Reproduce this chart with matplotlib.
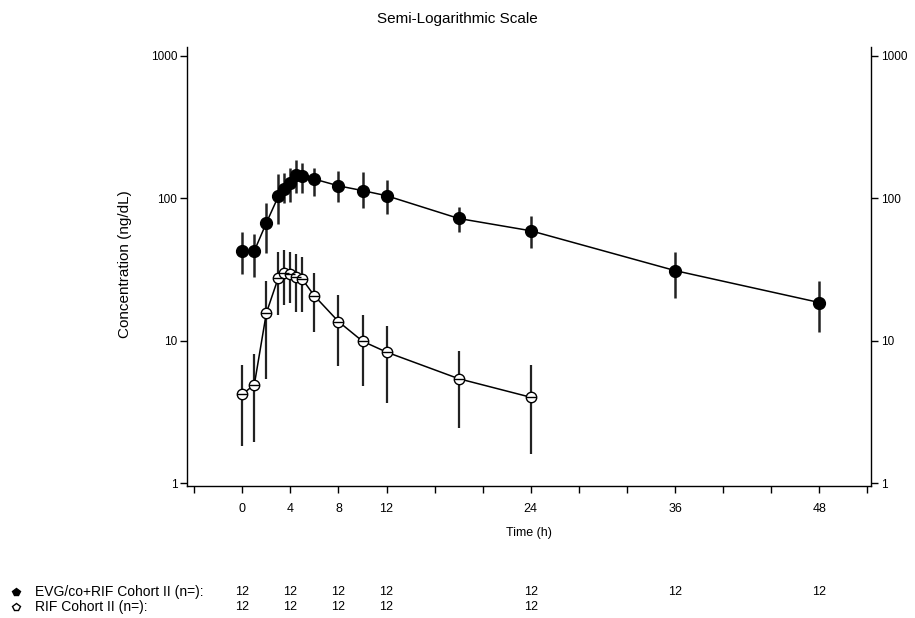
import matplotlib
matplotlib.use("Agg")
import matplotlib.pyplot as plt
from matplotlib.lines import Line2D
from matplotlib.transforms import blended_transform_factory
import numpy as np

plt.rcParams['font.family'] = ['Liberation Sans', 'DejaVu Sans']

# ---- data ----
evg_time = [0, 1, 2, 3, 3.5, 4, 4.5, 5, 6, 8, 10, 12, 18, 24, 36, 48]
evg_mean = [42.6, 42.6, 67, 103, 115, 127, 145, 142, 136, 122, 113, 104, 72, 59, 31, 18.5]
evg_low = [29.2, 28, 41, 66, 92, 94, 109, 108, 104, 94, 85, 78, 58, 45, 20, 11.4]
evg_high = [57.6, 56, 93, 148, 150, 162, 185, 177, 162, 156, 153, 133, 86, 75, 42, 26.2]

rif_time = [0, 1, 2, 3, 3.5, 4, 4.5, 5, 6, 8, 10, 12, 18, 24]
rif_mean = [4.2, 4.9, 15.6, 27.7, 29.7, 29.5, 28.1, 26.9, 20.6, 13.6, 9.9, 8.3, 5.4, 4.0]
rif_low = [1.82, 1.95, 5.35, 15.1, 17.8, 18.3, 16, 16, 11.5, 6.6, 4.8, 3.63, 2.42, 1.6]
rif_high = [6.7, 8.05, 26.3, 42, 43, 42, 40.6, 38.5, 29.7, 20.9, 15.1, 12.7, 8.45, 6.74]

n_times_evg = [0, 4, 8, 12, 24, 36, 48]
n_evg = [12, 12, 12, 12, 12, 12, 12]
n_times_rif = [0, 4, 8, 12, 24]
n_rif = [12, 12, 12, 12, 12]

xticks = [-4, 0, 4, 8, 12, 16, 20, 24, 28, 32, 36, 40, 44, 48, 52]
xtick_labels = ['', '0', '4', '8', '12', '', '', '24', '', '', '36', '', '', '48', '']
yticks = [1, 10, 100, 1000]
ytick_labels = ['1', '10', '100', '1000']

series_label_evg = "EVG/co+RIF Cohort II (n=):"
series_label_rif = "RIF Cohort II (n=):"

# ---- figure ----
fig = plt.figure(figsize=(9.15, 6.18), dpi=100)
ax = fig.add_axes([187/915, 132/618, (871-187)/915, (486-47)/618])

def yerr(mean, low, high):
    m = np.array(mean); return [m - np.array(low), np.array(high) - m]

ax.errorbar(evg_time, evg_mean, yerr=yerr(evg_mean, evg_low, evg_high),
            fmt='none', ecolor='#222222', elinewidth=1.8, capsize=0, zorder=2)
ax.plot(evg_time, evg_mean, color='black', lw=1.1, zorder=3)
ax.plot(evg_time, evg_mean, 'o', color='black', ms=8.5, zorder=4)

ax.errorbar(rif_time, rif_mean, yerr=yerr(rif_mean, rif_low, rif_high),
            fmt='none', ecolor='#222222', elinewidth=1.6, capsize=0, zorder=2)
ax.plot(rif_time, rif_mean, color='black', lw=1.1, zorder=3)
ax.plot(rif_time, rif_mean, 'o', mfc='white', mec='black', mew=1.0, ms=7.5, zorder=4)
ax.plot(rif_time, rif_mean, '_', color='black', mew=1.0, ms=7.5, zorder=5)

ax.set_yscale('log')
ax.set_ylim(0.953, 1151)
ax.set_xlim(-4.6, 52.3)
ax.set_yticks(yticks)
ax.set_yticklabels(ytick_labels)
ax.yaxis.set_minor_locator(matplotlib.ticker.NullLocator())
ax.set_xticks(xticks)
ax.set_xticklabels(xtick_labels)

ax.spines['top'].set_visible(False)
for s in ['left', 'right', 'bottom']:
    ax.spines[s].set_linewidth(1.0)
ax.tick_params(axis='y', which='both', left=True, right=True, labelleft=True,
               labelright=True, direction='out', length=5, width=1.0, labelsize=8.5, pad=2)
ax.tick_params(axis='x', direction='out', length=5, width=1.0, labelsize=9, pad=7)

ax.set_xlabel('Time (h)', fontsize=9, labelpad=9)
fig.text(125/915, 1 - 264/618, 'Concentration (ng/dL)', rotation=90, fontsize=11,
         ha='center', va='center')
fig.text(0.5, 1 - 19/618, 'Semi-Logarithmic Scale', fontsize=11, ha='center', va='center')

# ---- n table ----
trans = blended_transform_factory(ax.transData, fig.transFigure)
y1 = 1 - 592/618
y2 = 1 - 607/618
for t, n in zip(n_times_evg, n_evg):
    fig.text(t, y1, str(n), transform=trans, ha='center', va='center', fontsize=9)
for t, n in zip(n_times_rif, n_rif):
    fig.text(t, y2, str(n), transform=trans, ha='center', va='center', fontsize=9)
fig.text(35/915, y1, series_label_evg, ha='left', va='center', fontsize=10)
fig.text(35/915, y2, series_label_rif, ha='left', va='center', fontsize=10)
fig.add_artist(Line2D([16/915], [y1], transform=fig.transFigure, marker='p',
                      color='black', ms=6, ls='none'))
fig.add_artist(Line2D([16/915], [y2], transform=fig.transFigure, marker='p',
                      mfc='white', mec='black', mew=1.0, ms=6, ls='none'))

fig.savefig('out.png', dpi=100)
